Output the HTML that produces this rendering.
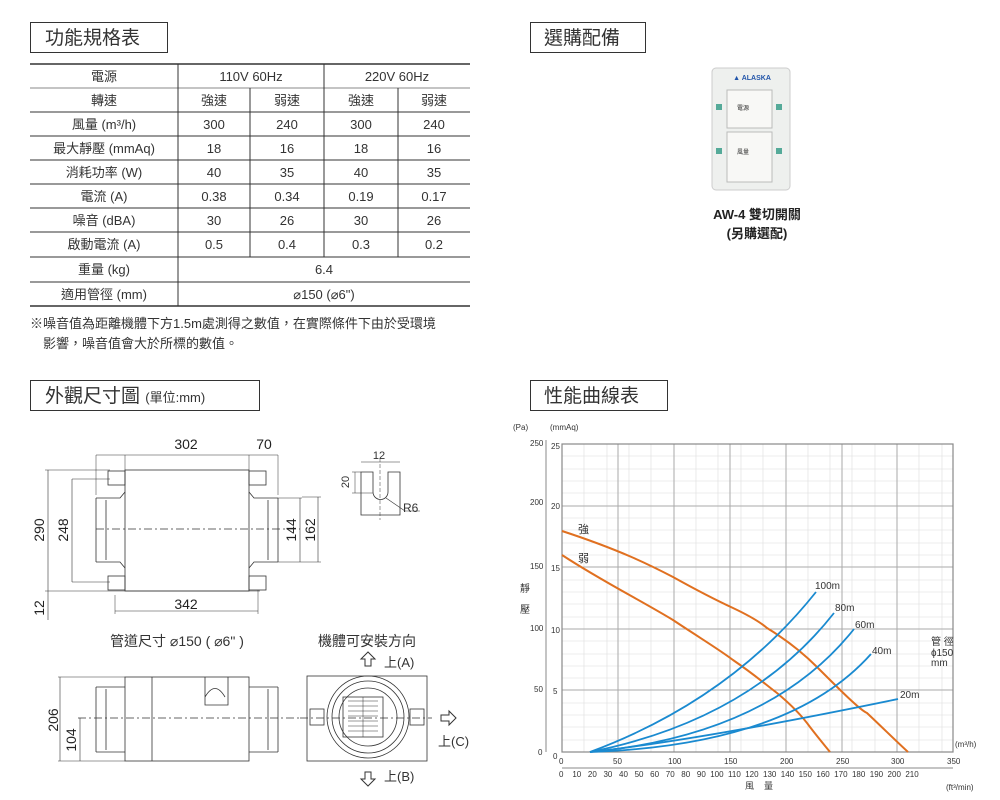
<!DOCTYPE html>
<html><head><meta charset="utf-8"><style>
html,body{margin:0;padding:0;background:#fff;width:1000px;height:800px;overflow:hidden}
svg{display:block}
text{font-family:"Liberation Sans","Noto Sans CJK TC",sans-serif;fill:#333}
.t{font-size:13px;text-anchor:middle}
.d{font-size:14px;fill:#222;text-anchor:middle}
.s{font-family:"Liberation Serif","Noto Serif CJK SC",serif;font-size:10px;fill:#444}
.ln{stroke:#333;fill:none;stroke-width:0.8}
</style></head><body>
<svg width="1000" height="800" viewBox="0 0 1000 800" xmlns="http://www.w3.org/2000/svg">
<!-- headers -->
<rect x="30.5" y="22.5" width="137" height="30" fill="#fff" stroke="#333"/>
<text x="45" y="44" style="font-size:19px">功能規格表</text>
<rect x="530.5" y="22.5" width="115" height="30" fill="#fff" stroke="#333"/>
<text x="544" y="44" style="font-size:19px">選購配備</text>
<rect x="30.5" y="380.5" width="229" height="30" fill="#fff" stroke="#333"/>
<text x="45" y="402" style="font-size:19px">外觀尺寸圖 <tspan style="font-size:13px">(單位:mm)</tspan></text>
<rect x="530.5" y="380.5" width="137" height="30" fill="#fff" stroke="#333"/>
<text x="544" y="402" style="font-size:19px">性能曲線表</text>

<!-- table -->
<g stroke="#333" stroke-width="1" fill="none">
<line x1="30" y1="64" x2="470" y2="64" stroke-width="1.5"/>
<line x1="30" y1="306" x2="470" y2="306" stroke-width="1.5"/>
<line x1="30" y1="88" x2="470" y2="88" stroke="#888"/>
<line x1="30" y1="112" x2="470" y2="112"/>
<line x1="30" y1="136" x2="470" y2="136"/>
<line x1="30" y1="160" x2="470" y2="160"/>
<line x1="30" y1="184" x2="470" y2="184"/>
<line x1="30" y1="208" x2="470" y2="208"/>
<line x1="30" y1="232" x2="470" y2="232"/>
<line x1="30" y1="257" x2="470" y2="257"/>
<line x1="30" y1="282" x2="470" y2="282"/>
<line x1="178" y1="64" x2="178" y2="306"/>
<line x1="324" y1="64" x2="324" y2="257"/>
<line x1="250" y1="88" x2="250" y2="257"/>
<line x1="398" y1="88" x2="398" y2="257"/>
</g>
<g class="t">
<text x="104" y="81" class="t">電源</text><text x="251" y="81" class="t">110V 60Hz</text><text x="397" y="81" class="t">220V 60Hz</text>
<text x="104" y="105" class="t">轉速</text><text x="214" y="105" class="t">強速</text><text x="287" y="105" class="t">弱速</text><text x="361" y="105" class="t">強速</text><text x="434" y="105" class="t">弱速</text>
<text x="104" y="129" class="t">風量 (m³/h)</text><text x="214" y="129" class="t">300</text><text x="287" y="129" class="t">240</text><text x="361" y="129" class="t">300</text><text x="434" y="129" class="t">240</text>
<text x="104" y="153" class="t">最大靜壓 (mmAq)</text><text x="214" y="153" class="t">18</text><text x="287" y="153" class="t">16</text><text x="361" y="153" class="t">18</text><text x="434" y="153" class="t">16</text>
<text x="104" y="177" class="t">消耗功率 (W)</text><text x="214" y="177" class="t">40</text><text x="287" y="177" class="t">35</text><text x="361" y="177" class="t">40</text><text x="434" y="177" class="t">35</text>
<text x="104" y="201" class="t">電流 (A)</text><text x="214" y="201" class="t">0.38</text><text x="287" y="201" class="t">0.34</text><text x="361" y="201" class="t">0.19</text><text x="434" y="201" class="t">0.17</text>
<text x="104" y="225" class="t">噪音 (dBA)</text><text x="214" y="225" class="t">30</text><text x="287" y="225" class="t">26</text><text x="361" y="225" class="t">30</text><text x="434" y="225" class="t">26</text>
<text x="104" y="249" class="t">啟動電流 (A)</text><text x="214" y="249" class="t">0.5</text><text x="287" y="249" class="t">0.4</text><text x="361" y="249" class="t">0.3</text><text x="434" y="249" class="t">0.2</text>
<text x="104" y="274" class="t">重量 (kg)</text><text x="324" y="274" class="t">6.4</text>
<text x="104" y="299" class="t">適用管徑 (mm)</text><text x="324" y="299" class="t">⌀150 (⌀6")</text>
</g>
<text x="30" y="328" style="font-size:13px">※噪音值為距離機體下方1.5m處測得之數值，在實際條件下由於受環境</text>
<text x="43" y="348" style="font-size:13px">影響，噪音值會大於所標的數值。</text>

<!-- switch -->
<rect x="712" y="68" width="78" height="122" rx="4" fill="#eef0ee" stroke="#ccc"/>
<rect x="727" y="90" width="45" height="38" fill="#f8f8f6" stroke="#bbb"/>
<rect x="727" y="132" width="45" height="50" fill="#f8f8f6" stroke="#bbb"/>
<rect x="716" y="104" width="6" height="6" fill="#5a9"/><rect x="776" y="104" width="6" height="6" fill="#5a9"/>
<rect x="716" y="148" width="6" height="6" fill="#5a9"/><rect x="776" y="148" width="6" height="6" fill="#5a9"/>
<text x="752" y="80" style="font-size:7px;fill:#2255aa;font-weight:bold" text-anchor="middle">▲ ALASKA</text>
<text x="737" y="110" style="font-size:6px">電源</text><text x="737" y="154" style="font-size:6px">風量</text>
<text x="757" y="219" style="font-size:13px;font-weight:bold;fill:#222" text-anchor="middle">AW-4 雙切開關</text>
<text x="757" y="238" style="font-size:13px;font-weight:bold;fill:#222" text-anchor="middle">(另購選配)</text>

<!-- top-view drawing -->
<g class="ln">
<rect x="125" y="470" width="124" height="121"/>
<path d="M96 498 L120 498 L125 492 M96 562 L120 562 L125 568 M96 498 V562 M106 500 V560"/>
<path d="M278 498 L254 498 L249 492 M278 562 L254 562 L249 568 M278 498 V562 M268 500 V560"/>
<rect x="108" y="471" width="17" height="14"/><rect x="108" y="576" width="17" height="14"/>
<rect x="249" y="471" width="17" height="14"/><rect x="249" y="576" width="17" height="14"/>
<line x1="96" y1="529" x2="300" y2="529" stroke-dasharray="8 3 2 3"/>
<line x1="96" y1="455" x2="96" y2="495" stroke-width="0.5"/><line x1="125" y1="455" x2="125" y2="470" stroke-width="0.5"/>
<line x1="249" y1="455" x2="249" y2="470" stroke-width="0.5"/><line x1="278" y1="455" x2="278" y2="495" stroke-width="0.5"/>
<line x1="96" y1="455" x2="278" y2="455" stroke-width="0.6"/>
<line x1="45" y1="470" x2="110" y2="470" stroke-width="0.5"/><line x1="45" y1="591" x2="260" y2="591" stroke-width="0.5"/>
<line x1="48" y1="470" x2="48" y2="620" stroke-width="0.6"/>
<line x1="72" y1="479" x2="72" y2="582" stroke-width="0.6"/>
<line x1="72" y1="479" x2="110" y2="479" stroke-width="0.5"/><line x1="72" y1="582" x2="110" y2="582" stroke-width="0.5"/>
<line x1="115" y1="595" x2="115" y2="614" stroke-width="0.5"/><line x1="258" y1="590" x2="258" y2="614" stroke-width="0.5"/>
<line x1="115" y1="611" x2="258" y2="611" stroke-width="0.6"/>
<line x1="278" y1="498" x2="302" y2="498" stroke-width="0.5"/><line x1="278" y1="562" x2="321" y2="562" stroke-width="0.5"/>
<line x1="300" y1="498" x2="300" y2="562" stroke-width="0.6"/><line x1="302" y1="497" x2="321" y2="497" stroke-width="0.5"/>
<line x1="318" y1="497" x2="318" y2="562" stroke-width="0.6"/>
<!-- slot detail -->
<path d="M361 472 V515 H400 V472 H388 V492 A7.5 7.5 0 0 1 373 492 V472 Z"/>
<line x1="361" y1="462" x2="400" y2="462" stroke-width="0.5"/>
<line x1="380" y1="458" x2="380" y2="520" stroke-dasharray="4 2" stroke-width="0.5"/>
<line x1="352" y1="472" x2="361" y2="472" stroke-width="0.5"/><line x1="352" y1="493" x2="373" y2="493" stroke-width="0.5"/>
<line x1="355" y1="472" x2="355" y2="493" stroke-width="0.5"/>
<line x1="386" y1="498" x2="405" y2="511" stroke-width="0.6"/><line x1="405" y1="511" x2="420" y2="511" stroke-width="0.5"/>
</g>
<text x="186" y="449" class="d">302</text><text x="264" y="449" class="d">70</text>
<text x="186" y="609" class="d">342</text>
<text x="379" y="459" style="font-size:11px" text-anchor="middle">12</text>
<text x="403" y="512" style="font-size:12px">R6</text>
<text transform="translate(349,482) rotate(-90)" style="font-size:11px" text-anchor="middle">20</text>
<text transform="translate(44,530) rotate(-90)" class="d">290</text>
<text transform="translate(68,530) rotate(-90)" class="d">248</text>
<text transform="translate(296,530) rotate(-90)" class="d">144</text>
<text transform="translate(315,530) rotate(-90)" class="d">162</text>
<text transform="translate(44,608) rotate(-90)" class="d">12</text>

<text x="110" y="646" style="font-size:14px">管道尺寸  ⌀150 ( ⌀6" )</text>
<text x="318" y="646" style="font-size:14px">機體可安裝方向</text>

<!-- side view -->
<g class="ln">
<rect x="125" y="677" width="124" height="84"/>
<path d="M96 687 H125 M96 752 H125 M96 687 V752 M106 689 V750 M249 687 H278 M249 752 H278 M278 687 V752 M268 689 V750"/>
<line x1="152" y1="677" x2="152" y2="761"/>
<path d="M205 677 V705 H228 V677 M205 697 Q215 680 225 697"/>
<line x1="58" y1="677" x2="125" y2="677" stroke-width="0.5"/><line x1="58" y1="761" x2="125" y2="761" stroke-width="0.5"/>
<line x1="60" y1="677" x2="60" y2="761" stroke-width="0.6"/>
<line x1="80" y1="718" x2="80" y2="761" stroke-width="0.6"/>
<line x1="78" y1="718" x2="300" y2="718" stroke-dasharray="8 3 2 3"/>
<!-- front view -->
<rect x="307" y="676" width="120" height="85"/>
<circle cx="368" cy="717" r="41"/><circle cx="368" cy="717" r="36"/><circle cx="368" cy="717" r="29"/>
<rect x="343" y="697" width="40" height="40"/>
<path d="M348 701 H378 M348 706 H378 M348 711 H378 M348 716 H378 M348 721 H378 M348 726 H378 M348 731 H378 M363 697 V737" stroke-width="0.5"/>
<rect x="310" y="709" width="14" height="16"/><rect x="410" y="709" width="14" height="16"/>
<line x1="300" y1="718" x2="432" y2="718" stroke-dasharray="8 3 2 3"/>
</g>
<text transform="translate(58,720) rotate(-90)" class="d">206</text>
<text transform="translate(76,740) rotate(-90)" class="d">104</text>
<path d="M368 652 L361 659 H365 V666 H371 V659 H375 Z" fill="#fff" stroke="#333"/>
<text x="384" y="667" style="font-size:13px">上(A)</text>
<path d="M368 786 L361 779 H365 V772 H371 V779 H375 Z" fill="#fff" stroke="#333"/>
<text x="384" y="781" style="font-size:13px">上(B)</text>
<path d="M456 718 L449 711 V715 H441 V721 H449 V725 Z" fill="#fff" stroke="#333"/>
<text x="438" y="746" style="font-size:13px">上(C)</text>

<!-- chart grid -->
<g stroke="#ddd" stroke-width="0.6">
<line x1="562" y1="456" x2="953" y2="456"/><line x1="562" y1="469" x2="953" y2="469"/><line x1="562" y1="481" x2="953" y2="481"/><line x1="562" y1="493" x2="953" y2="493"/>
<line x1="562" y1="518" x2="953" y2="518"/><line x1="562" y1="530" x2="953" y2="530"/><line x1="562" y1="543" x2="953" y2="543"/><line x1="562" y1="555" x2="953" y2="555"/>
<line x1="562" y1="580" x2="953" y2="580"/><line x1="562" y1="592" x2="953" y2="592"/><line x1="562" y1="604" x2="953" y2="604"/><line x1="562" y1="617" x2="953" y2="617"/>
<line x1="562" y1="641" x2="953" y2="641"/><line x1="562" y1="654" x2="953" y2="654"/><line x1="562" y1="666" x2="953" y2="666"/><line x1="562" y1="678" x2="953" y2="678"/>
<line x1="562" y1="703" x2="953" y2="703"/><line x1="562" y1="715" x2="953" y2="715"/><line x1="562" y1="727" x2="953" y2="727"/><line x1="562" y1="740" x2="953" y2="740"/>
<line x1="584" y1="444" x2="584" y2="752"/><line x1="607" y1="444" x2="607" y2="752"/><line x1="629" y1="444" x2="629" y2="752"/><line x1="651" y1="444" x2="651" y2="752"/>
<line x1="696" y1="444" x2="696" y2="752"/><line x1="718" y1="444" x2="718" y2="752"/><line x1="741" y1="444" x2="741" y2="752"/><line x1="763" y1="444" x2="763" y2="752"/>
<line x1="808" y1="444" x2="808" y2="752"/><line x1="830" y1="444" x2="830" y2="752"/><line x1="852" y1="444" x2="852" y2="752"/><line x1="875" y1="444" x2="875" y2="752"/>
<line x1="919" y1="444" x2="919" y2="752"/><line x1="942" y1="444" x2="942" y2="752"/>
</g>
<g stroke="#aaa" stroke-width="1">
<line x1="562" y1="506" x2="953" y2="506"/><line x1="562" y1="567" x2="953" y2="567"/><line x1="562" y1="629" x2="953" y2="629"/><line x1="562" y1="690" x2="953" y2="690"/>
<line x1="618" y1="444" x2="618" y2="752"/><line x1="674" y1="444" x2="674" y2="752"/><line x1="730" y1="444" x2="730" y2="752"/><line x1="786" y1="444" x2="786" y2="752"/><line x1="842" y1="444" x2="842" y2="752"/><line x1="897" y1="444" x2="897" y2="752"/>
</g>
<rect x="562" y="444" width="391" height="308" fill="none" stroke="#888" stroke-width="1.2"/>
<line x1="546" y1="440" x2="546" y2="752" stroke="#888"/>
<line x1="562" y1="768" x2="953" y2="768" stroke="#888"/>
<!-- curves -->
<g fill="none" stroke-width="2" stroke="#e07020">
<path d="M562 531 C620 550 650 565 673 577 C700 592 720 602 733 608 C750 616 760 622 767 628 C790 642 805 655 817 667 C840 690 860 710 867 713 C885 730 897 742 908 752"/>
<path d="M562 555 C600 580 640 600 673 620 C700 638 720 650 733 660 C755 675 765 684 777 693 C795 708 805 720 810 727 C820 740 826 747 830 752"/>
</g>
<g fill="none" stroke-width="1.8" stroke="#1a8ad0">
<path d="M590 752 Q730 700 816 592"/>
<path d="M590 752 Q750 720 834 613"/>
<path d="M590 752 Q770 735 854 629"/>
<path d="M590 752 Q790 745 871 654"/>
<path d="M590 752 Q700 740 898 699"/>
</g>
<g class="s">
<text x="578" y="533" style="font-size:11px">強</text><text x="578" y="562" style="font-size:11px">弱</text>
<text x="815" y="589">100m</text><text x="835" y="611">80m</text><text x="855" y="628">60m</text><text x="872" y="654">40m</text><text x="900" y="698">20m</text>
<text x="931" y="645">管 徑</text><text x="931" y="656">ɸ150</text><text x="931" y="666">mm</text>
<text x="520" y="592" style="font-size:10px">靜</text><text x="520" y="613" style="font-size:10px">壓</text>
<text x="513" y="430" style="font-size:8px">(Pa)</text><text x="550" y="430" style="font-size:8px">(mmAq)</text>
</g>
<g style="font-size:8px;fill:#555">
<text x="530" y="446">250</text><text x="530" y="505">200</text><text x="530" y="569">150</text><text x="530" y="631">100</text><text x="534" y="692">50</text><text x="538" y="755">0</text>
<text x="551" y="449">25</text><text x="551" y="509">20</text><text x="551" y="571">15</text><text x="551" y="633">10</text><text x="553" y="694">5</text><text x="553" y="759">0</text>
<text x="559" y="764">0</text><text x="613" y="764">50</text><text x="668" y="764">100</text><text x="724" y="764">150</text><text x="780" y="764">200</text><text x="836" y="764">250</text><text x="891" y="764">300</text><text x="947" y="764">350</text>
<text x="559" y="777">0 &#160;&#160;&#160;10 &#160;&#160;20 &#160;&#160;30 &#160;&#160;40 &#160;&#160;50 &#160;&#160;60 &#160;&#160;70 &#160;&#160;80 &#160;&#160;90 &#160;100 &#160;110 &#160;120 &#160;130 &#160;140 &#160;150 &#160;160 &#160;170 &#160;180 &#160;190 &#160;200 &#160;210</text>
<text x="955" y="747">(m³/h)</text><text x="946" y="790">(ft³/min)</text>
<text x="745" y="789" style="font-size:9px">風 &#160;&#160;&#160;量</text>
</g>
</svg>
</body></html>
